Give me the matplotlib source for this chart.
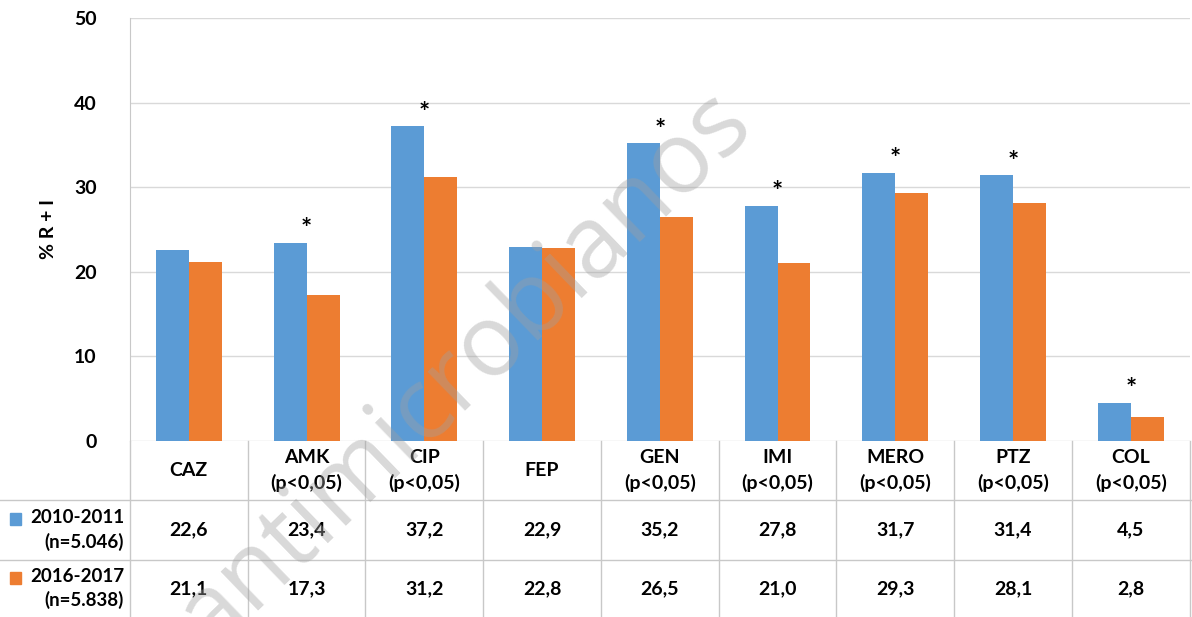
import matplotlib.pyplot as plt
import matplotlib.transforms as mtransforms
import numpy as np

plt.rcParams['font.family'] = ['Lato', 'DejaVu Sans']
plt.rcParams['font.weight'] = 'bold'

categories = ['CAZ', 'AMK', 'CIP', 'FEP', 'GEN', 'IMI', 'MERO', 'PTZ', 'COL']
significant = [False, True, True, False, True, True, True, True, True]
values_2010 = [22.6, 23.4, 37.2, 22.9, 35.2, 27.8, 31.7, 31.4, 4.5]
values_2016 = [21.1, 17.3, 31.2, 22.8, 26.5, 21.0, 29.3, 28.1, 2.8]
series_labels = ['2010-2011\n(n=5.046)', '2016-2017\n(n=5.838)']
yticks = [0, 10, 20, 30, 40, 50]

blue = '#5B9BD5'
orange = '#ED7D31'
line_col = '#c8c8c8'
fs = 14

fig = plt.figure(figsize=(11.92, 6.17), dpi=100)
ax = fig.add_axes([0.109, 0.2853, 0.889, 0.6855])

x = np.arange(len(categories))
w = 0.28
ax.bar(x - w / 2, values_2010, w, color=blue, zorder=2)
ax.bar(x + w / 2, values_2016, w, color=orange, zorder=2)

# significance marks
for i, sig in enumerate(significant):
    if sig:
        top = max(values_2010[i], values_2016[i])
        ax.text(x[i], top + 0.2, '*', ha='center', va='bottom',
                fontsize=19, fontweight='bold', color='black')

ax.set_xlim(-0.5, len(categories) - 0.5)
ax.set_ylim(0, 50)
ax.set_yticks(yticks)
ax.set_yticklabels([str(t) for t in yticks], fontsize=fs, fontweight='bold')
ax.tick_params(axis='y', length=0, pad=24)
ax.set_xticks([])
ax.yaxis.grid(True, color='#d9d9d9', linewidth=1)
ax.set_axisbelow(True)
for s in ['top', 'right', 'bottom']:
    ax.spines[s].set_visible(False)
ax.spines['left'].set_color(line_col)
ax.set_ylabel('% R + I', fontsize=fs, fontweight='bold', labelpad=12)

# data table below the axes
blend = mtransforms.blended_transform_factory(ax.transData, fig.transFigure)
row_edges = [0.2853, 0.1896, 0.0924, 0.0]
row_mid = [(row_edges[k] + row_edges[k + 1]) / 2 for k in range(3)]

def hline(y, x0, x1):
    fig.add_artist(plt.Line2D([x0, x1], [y, y], transform=fig.transFigure,
                              color=line_col, linewidth=1))

hline(row_edges[1], 0.0, 1.0)
hline(row_edges[2], 0.0, 1.0)
for b in np.arange(-0.5, len(categories) + 0.5, 1.0):
    fig.add_artist(plt.Line2D([b, b], [0.0, row_edges[0]], transform=blend,
                              color=line_col, linewidth=1))

for i, cat in enumerate(categories):
    label = cat + ('\n(p<0,05)' if significant[i] else '')
    fig.text(x[i], row_mid[0], label, transform=blend, ha='center', va='center',
             fontsize=fs, fontweight='bold', linespacing=1.5)
    fig.text(x[i], row_mid[1], f'{values_2010[i]:.1f}'.replace('.', ','),
             transform=blend, ha='center', va='center', fontsize=fs, fontweight='bold')
    fig.text(x[i], row_mid[2], f'{values_2016[i]:.1f}'.replace('.', ','),
             transform=blend, ha='center', va='center', fontsize=fs, fontweight='bold')

for k, (lab, col) in enumerate(zip(series_labels, [blue, orange])):
    yc = row_mid[k + 1]
    fig.text(0.104, yc, lab, ha='right', va='center', fontsize=13.5,
             fontweight='bold', linespacing=1.45)
    fig.patches.append(plt.Rectangle((0.008, yc + 0.008), 0.0092, 0.019,
                                     transform=fig.transFigure, color=col))

# watermark
fig.text(0.39, 0.40, 'antimicrobianos', rotation=44, ha='center', va='center',
         fontsize=72, fontweight='normal', color='#a0a0a0', alpha=0.4,
         family=['Open Sans', 'DejaVu Sans'], zorder=10)

fig.savefig('out.png', dpi=100)
